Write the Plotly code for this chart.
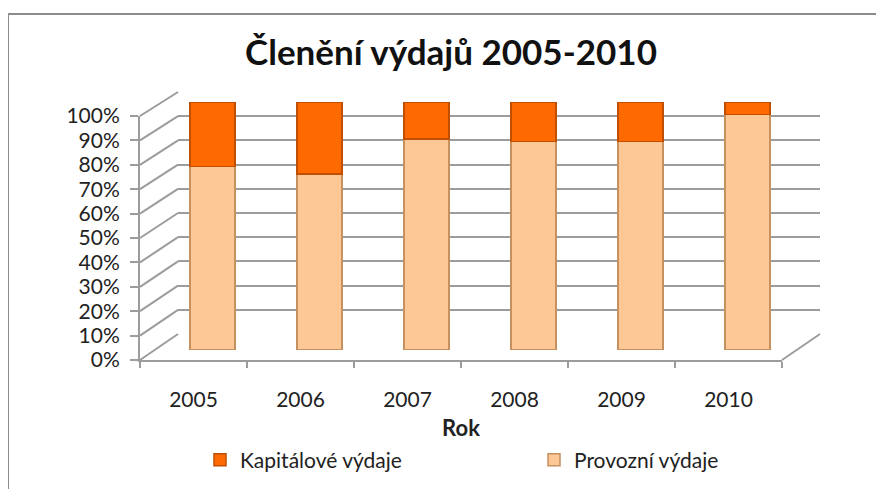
import plotly.graph_objects as go

# data (share of total expenditure)
years = ["2005", "2006", "2007", "2008", "2009", "2010"]
provozni = [0.74, 0.71, 0.85, 0.84, 0.84, 0.95]
kapitalove = [0.26, 0.29, 0.15, 0.16, 0.16, 0.05]
y_ticks = [0, 0.1, 0.2, 0.3, 0.4, 0.5, 0.6, 0.7, 0.8, 0.9, 1.0]

font_name = "Lato"
grid_col = "#9C9C9C"

# the page body adds an 8px margin, positions below are measured on the page
OFF = 8
# pixel box of the whole plotting region (front floor edge .. back wall), page coords
L, R, T, B = 140, 820, 92, 360
W, H = R - L, B - T


def px(x):
    return (x - L) / W


def py(y):
    return (B - y) / H


# front plane (labels), back wall (grid), middle (cylinders) - simple 3D look
front_x = [0, px(782)]
front_y = [0, py(116)]
back_x = [px(178), 1]
back_y = [py(334), 1]
mid_x = [px(159), px(801)]
mid_y = [py(350), py(102)]

fig = go.Figure()
fig.add_trace(go.Bar(
    x=years, y=provozni, name="Provozní výdaje",
    marker=dict(color="#FDC896", line=dict(color="#C4915F", width=1.5)),
    width=0.42, xaxis="x3", yaxis="y3", legend="legend2",
))
fig.add_trace(go.Bar(
    x=years, y=kapitalove, name="Kapitálové výdaje",
    marker=dict(color="#FF6A00", line=dict(color="#C24F00", width=1.5)),
    width=0.42, xaxis="x3", yaxis="y3", legend="legend",
))
# invisible helpers so the front and back axes are drawn
fig.add_trace(go.Scatter(x=years, y=[None] * len(years), xaxis="x", yaxis="y",
                         showlegend=False, hoverinfo="skip"))
fig.add_trace(go.Scatter(x=years, y=[None] * len(years), xaxis="x2", yaxis="y2",
                         showlegend=False, hoverinfo="skip"))

fig.update_layout(
    barmode="stack",
    width=884, height=489,
    margin=dict(l=L - OFF, r=884 - R + OFF, t=T - OFF, b=489 - B + OFF, autoexpand=False),
    paper_bgcolor="white", plot_bgcolor="rgba(0,0,0,0)",
    font=dict(family=font_name, size=21, color="#222222"),
    title=dict(text="<b>Členění výdajů 2005-2010</b>", x=(451 - OFF) / 884, xanchor="center",
               y=1 - (53 - OFF) / 489, yanchor="middle",
               font=dict(family=font_name, size=35, color="#111111")),
    legend=dict(orientation="h", x=px(200), xanchor="left", y=py(460), yanchor="middle",
                font=dict(family=font_name, size=21, color="#222222")),
    legend2=dict(orientation="h", x=px(534), xanchor="left", y=py(460), yanchor="middle",
                 font=dict(family=font_name, size=21, color="#222222")),
    bargap=0.58,
    # front axes: labels, floor edge, left edge
    xaxis=dict(domain=front_x, range=[-0.5, 5.5], type="category", automargin=False,
               showline=True, linecolor=grid_col, linewidth=2,
               ticks="outside", ticklen=6, tickcolor=grid_col, tickwidth=2,
               tickson="boundaries", ticklabelstandoff=20, showgrid=False,
               title=dict(text="<b>Rok</b>", standoff=10, font=dict(size=22))),
    yaxis=dict(domain=front_y, range=[0, 1], tickvals=y_ticks, tickformat=".0%",
               showline=True, linecolor=grid_col, linewidth=2, showgrid=False,
               ticks="outside", ticklen=8, tickcolor=grid_col, tickwidth=2,
               ticklabelstandoff=6,
               zeroline=False, anchor="x", automargin=False),
    # back wall: gridlines only
    xaxis2=dict(domain=back_x, range=[-0.5, 5.5], type="category", visible=False,
                anchor="y2"),
    yaxis2=dict(domain=back_y, range=[0, 1], tickvals=y_ticks, showticklabels=False,
                showgrid=True, gridcolor=grid_col, gridwidth=2, zeroline=False,
                showline=False, anchor="x2"),
    # cylinders in the middle depth
    xaxis3=dict(domain=mid_x, range=[-0.5, 5.5], type="category", visible=False,
                anchor="y3"),
    yaxis3=dict(domain=mid_y, range=[0, 1], visible=False, anchor="x3"),
)

# side wall diagonals joining the front ticks to the back gridlines
for v in y_ticks:
    fig.add_shape(type="line", xref="paper", yref="paper", layer="below",
                  x0=front_x[0], y0=front_y[0] + v * (front_y[1] - front_y[0]),
                  x1=back_x[0], y1=back_y[0] + v * (back_y[1] - back_y[0]),
                  line=dict(color=grid_col, width=2))
# right floor edge
fig.add_shape(type="line", xref="paper", yref="paper", layer="below",
              x0=front_x[1], y0=front_y[0], x1=back_x[1], y1=back_y[0],
              line=dict(color=grid_col, width=2))

# outer chart frame (partly outside the picture, as in the screenshot)
fig.add_shape(type="rect", xref="paper", yref="paper", layer="below",
              x0=px(8), x1=px(1000), y0=py(700), y1=py(14),
              line=dict(color="#8C8C8C", width=2))

fig.write_html("out.html")
